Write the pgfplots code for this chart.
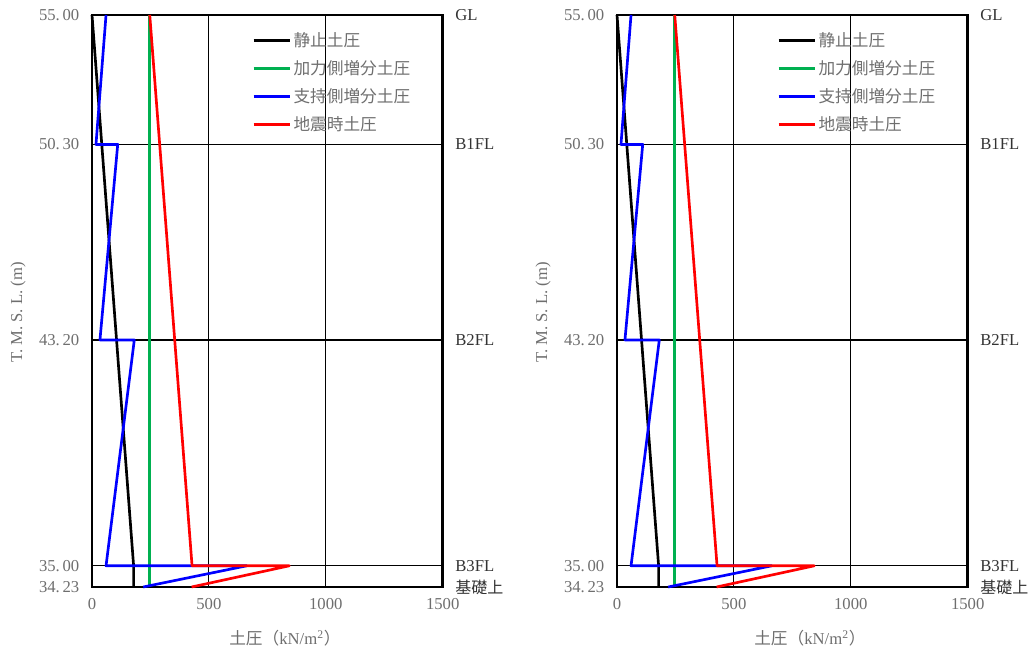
\documentclass[border=0pt]{standalone}
\usepackage{fontspec}
\setmainfont{Liberation Serif}
\newfontfamily\cjk{Noto Sans CJK JP}
\usepackage{pgfplots}
\pgfplotsset{compat=1.18}
\definecolor{tgray}{RGB}{110,110,110}
\definecolor{lgreen}{RGB}{0,176,80}
\pgfplotsset{
 myax/.style={
  scale only axis, width=263pt, height=429pt,
  xmin=0,xmax=1500,ymin=34.23,ymax=55,
  xtick={0,500,1000,1500},
  xticklabels={0,500,1000,1500},
  ytick={34.23,35,43.2,50.3,55},
  yticklabels={34.\,23,35.\,00,43.\,20,50.\,30,55.\,00},
  major tick length=0pt,
  grid=major, grid style={black, line width=0.9pt},
  axis line style={black, line width=2.2pt},
  tick label style={text=tgray, font=\fontsize{12.5}{14}\selectfont},
  xticklabel style={yshift=-5pt},
  yticklabel style={xshift=-6pt},
  xlabel={{\cjk 土圧（}kN/m\textsuperscript{2}{\cjk ）}},
  ylabel={T. M. S. L. (m)},
  label style={text=tgray, font=\fontsize{12.5}{14}\selectfont},
  xlabel style={at={(axis description cs:0.55,-0.089)}, anchor=center},
  ylabel style={at={(axis description cs:-0.211,0.48)}, anchor=center},
  clip=false,
  legend cell align=left,
  legend image code/.code={\draw[#1] (0pt,0pt) -- (27pt,0pt);},
  legend style={at={(0.456,0.975)}, anchor=north west, draw=none, fill=none,
    text=tgray, font=\fontsize{12.5}{14}\selectfont\cjk, row sep=5pt, inner sep=0pt},
  every axis plot/.append style={line width=2pt, line join=round},
 }
}
\newcommand{\rlabels}{%
  \node[anchor=west, text=black!80, font=\fontsize{12.5}{14}\selectfont] at (axis cs:1500,55) [xshift=6pt] {GL};
  \node[anchor=west, text=black!80, font=\fontsize{12.5}{14}\selectfont] at (axis cs:1500,50.3) [xshift=6pt] {B1FL};
  \node[anchor=west, text=black!80, font=\fontsize{12.5}{14}\selectfont] at (axis cs:1500,43.2) [xshift=6pt] {B2FL};
  \node[anchor=west, text=black!80, font=\fontsize{12.5}{14}\selectfont] at (axis cs:1500,35) [xshift=6pt] {B3FL};
  \node[anchor=west, text=black!80, font=\fontsize{12}{14}\selectfont\cjk] at (axis cs:1500,34.23) [xshift=6pt] {基礎上};
}
\newcommand{\plots}{%
  \addplot[black] coordinates {(0,55) (178,35) (178,34.23)};
  \addplot[lgreen] coordinates {(247,55) (247,34.23)};
  \addplot[blue] coordinates {(60,55) (17,50.3) (110,50.3) (34,43.2) (181,43.2) (60,35) (662,35) (219,34.23)};
  \addplot[red] coordinates {(247,55) (428,35) (844,35) (426,34.23)};
  \legend{静止土圧,加力側増分土圧,支持側増分土圧,地震時土圧}
}
\begin{document}
\begin{tikzpicture}
\path[use as bounding box] (0,0) rectangle (774.75pt,495pt);
\begin{axis}[myax, at={(69pt,54.75pt)}, anchor=south west]
\plots
\rlabels
\end{axis}
\begin{axis}[myax, at={(462.75pt,54.75pt)}, anchor=south west]
\plots
\rlabels
\end{axis}
\end{tikzpicture}
\end{document}
